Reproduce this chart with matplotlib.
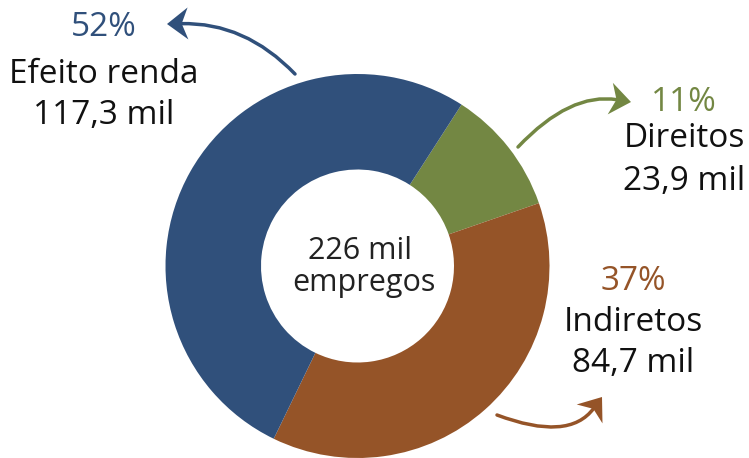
import matplotlib
matplotlib.use("Agg")
import matplotlib.pyplot as plt
from matplotlib.path import Path
from matplotlib.patches import PathPatch, Polygon
import numpy as np

# Datos (mil empregos)
categorias = ["Direitos", "Indiretos", "Efeito renda"]
valores = [23.9, 84.7, 117.3]
porcentajes = ["11%", "37%", "52%"]
valores_txt = ["23,9 mil", "84,7 mil", "117,3 mil"]
colores = ["#738743", "#955428", "#30507b"]
total_txt = ["226 mil", "empregos"]

W, H = 749, 458
plt.rcParams["font.family"] = ["Open Sans", "DejaVu Sans"]

fig = plt.figure(figsize=(W / 100, H / 100), dpi=100)
ax = fig.add_axes([0, 0, 1, 1])

def Y(y):
    # coordenadas de imagen (y hacia abajo) -> datos
    return H - y

centro = (357.5, Y(266))
radio = 192
ax.pie(valores, colors=colores, startangle=57.2, counterclock=False,
       center=centro, radius=radio,
       wedgeprops=dict(width=radio - 96.5, linewidth=0))
ax.set_xlim(0, W)
ax.set_ylim(0, H)
ax.set_aspect("equal")
ax.axis("off")

# Texto central
ax.text(360, Y(259), total_txt[0], ha="center", va="baseline", fontsize=22, color="#222222")
ax.text(364, Y(291), total_txt[1], ha="center", va="baseline", fontsize=22, color="#222222")

# Etiquetas: (x, baseline %, baseline nombre, baseline valor)
pos_etiquetas = [(684, 111, 147, 190), (633, 290, 331, 372), (104, 36, 83, 124)]
for i, (x, y1, y2, y3) in enumerate(pos_etiquetas):
    ax.text(x, Y(y1), porcentajes[i], ha="center", va="baseline", fontsize=24, color=colores[i])
    ax.text(x, Y(y2), categorias[i], ha="center", va="baseline", fontsize=24, color="#111111")
    ax.text(x, Y(y3), valores_txt[i], ha="center", va="baseline", fontsize=24, color="#111111")

def flecha(p0, p1, p2, color):
    pts = [(p0[0], Y(p0[1])), (p1[0], Y(p1[1])), (p2[0], Y(p2[1]))]
    d = np.array(pts[2]) - np.array(pts[1])
    d = d / np.hypot(*d)
    n = np.array([-d[1], d[0]])
    tip = np.array(pts[2])
    L, A = 21, 16
    base = tip - d * 14
    path = Path([pts[0], pts[1], tuple(base)], [Path.MOVETO, Path.CURVE3, Path.CURVE3])
    ax.add_patch(PathPatch(path, fill=False, edgecolor=color, linewidth=2.5, capstyle="round"))
    cabeza = [tip, tip - d * L + n * A, tip - d * (0.7 * L), tip - d * L - n * A]
    ax.add_patch(Polygon(cabeza, closed=True, facecolor=color, edgecolor="none"))

flecha((295, 74), (245, 22), (167, 24), colores[2])
flecha((518, 147), (570, 92), (631, 102), colores[0])
flecha((497, 415), (569, 442), (602, 397), colores[1])

fig.savefig("out.png", dpi=100)
